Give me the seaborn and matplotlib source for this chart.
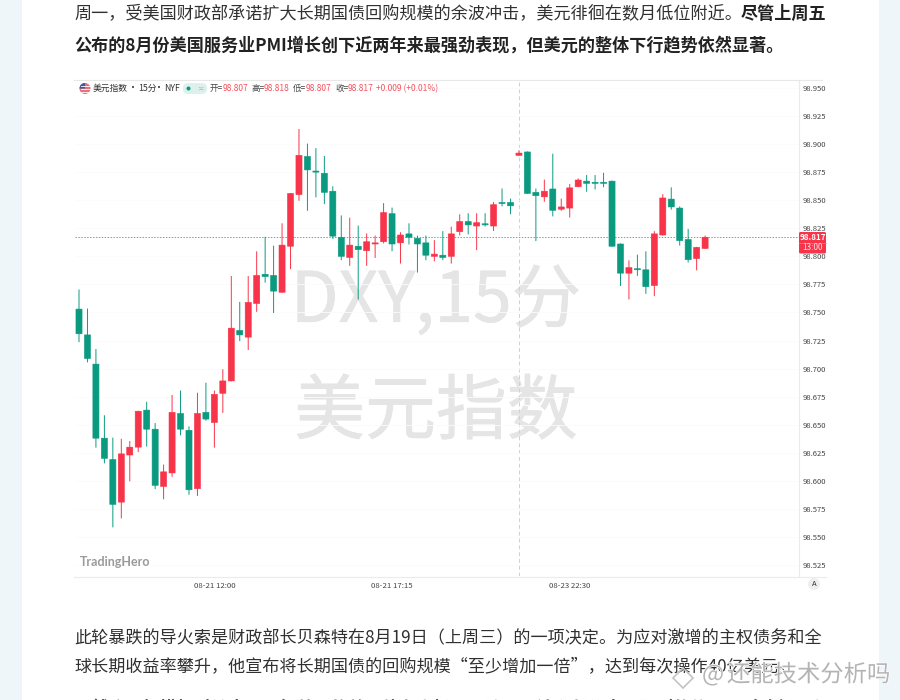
# load libraries
import seaborn as sns
import matplotlib.pyplot as plt
import matplotlib.patches as mpatches
import matplotlib.patheffects as pe
from matplotlib.lines import Line2D
from matplotlib.transforms import Affine2D
import pandas as pd

# candles
opens = [98.753, 98.730, 98.704, 98.638, 98.619, 98.581, 98.623, 98.630, 98.663, 98.646,
         98.595, 98.607, 98.660, 98.645, 98.593, 98.661, 98.652, 98.678, 98.689, 98.734,
         98.728, 98.758, 98.784, 98.783, 98.768, 98.809, 98.855, 98.889, 98.876, 98.874,
         98.858, 98.817, 98.799, 98.809, 98.805, 98.811, 98.813, 98.838, 98.812, 98.820,
         98.816, 98.812, 98.800, 98.801, 98.800, 98.822, 98.831, 98.827, 98.829, 98.827,
         98.848, 98.848, 98.890, 98.893, 98.857, 98.853, 98.860, 98.842, 98.843, 98.862,
         98.867, 98.866, 98.866, 98.867, 98.811, 98.785, 98.789, 98.788, 98.774, 98.819,
         98.851, 98.843, 98.815, 98.798, 98.807]
highs = [98.770, 98.753, 98.717, 98.658, 98.638, 98.637, 98.635, 98.662, 98.670, 98.651,
         98.614, 98.676, 98.680, 98.648, 98.678, 98.687, 98.680, 98.699, 98.782, 98.759,
         98.782, 98.804, 98.817, 98.809, 98.829, 98.856, 98.913, 98.900, 98.896, 98.889,
         98.862, 98.836, 98.834, 98.827, 98.820, 98.818, 98.847, 98.843, 98.821, 98.829,
         98.818, 98.818, 98.814, 98.822, 98.826, 98.837, 98.838, 98.838, 98.838, 98.848,
         98.860, 98.851, 98.894, 98.893, 98.860, 98.868, 98.891, 98.851, 98.864, 98.869,
         98.872, 98.872, 98.874, 98.867, 98.811, 98.796, 98.801, 98.804, 98.822, 98.855,
         98.861, 98.844, 98.824, 98.808, 98.818]
lows = [98.724, 98.706, 98.630, 98.616, 98.559, 98.567, 98.600, 98.626, 98.631, 98.593,
        98.584, 98.604, 98.641, 98.588, 98.587, 98.654, 98.630, 98.661, 98.689, 98.725,
        98.717, 98.751, 98.777, 98.750, 98.768, 98.789, 98.850, 98.841, 98.853, 98.847,
        98.816, 98.797, 98.792, 98.762, 98.792, 98.799, 98.812, 98.805, 98.794, 98.811,
        98.786, 98.797, 98.796, 98.797, 98.794, 98.819, 98.820, 98.806, 98.827, 98.823,
        98.845, 98.838, 98.890, 98.856, 98.814, 98.849, 98.836, 98.841, 98.835, 98.862,
        98.858, 98.860, 98.862, 98.809, 98.774, 98.762, 98.783, 98.767, 98.765, 98.819,
        98.842, 98.810, 98.795, 98.788, 98.807]
closes = [98.731, 98.709, 98.638, 98.620, 98.579, 98.624, 98.630, 98.662, 98.646, 98.596,
          98.608, 98.661, 98.646, 98.592, 98.660, 98.655, 98.677, 98.689, 98.736, 98.730,
          98.759, 98.783, 98.782, 98.769, 98.810, 98.856, 98.890, 98.877, 98.875, 98.857,
          98.818, 98.800, 98.810, 98.806, 98.813, 98.812, 98.839, 98.811, 98.819, 98.817,
          98.811, 98.801, 98.802, 98.799, 98.820, 98.831, 98.828, 98.830, 98.828, 98.846,
          98.847, 98.845, 98.892, 98.856, 98.854, 98.858, 98.841, 98.844, 98.861, 98.868,
          98.865, 98.865, 98.865, 98.809, 98.785, 98.790, 98.788, 98.773, 98.820, 98.852,
          98.844, 98.814, 98.797, 98.808, 98.817]

y_ticks = [98.525, 98.550, 98.575, 98.600, 98.625, 98.650, 98.675, 98.700, 98.725,
           98.750, 98.775, 98.800, 98.825, 98.850, 98.875, 98.900, 98.925, 98.950]
x_tick_bars = [16, 37, 58]
x_tick_labels = ['08-21 12:00', '08-21 17:15', '08-23 22:30']
crosshair_bar = 52
last_price = 98.817

para_top = '周一，受美国财政部承诺扩大长期国债回购规模的余波冲击，美元徘徊在数月低位附近。'
para_top_bold = '尽管上周五'
para_bold = '公布的8月份美国服务业PMI增长创下近两年来最强劲表现，但美元的整体下行趋势依然显著。'
para_low_1 = '此轮暴跌的导火索是财政部长贝森特在8月19日（上周三）的一项决定。为应对激增的主权债务和全'
para_low_2 = '球长期收益率攀升，他宣布将长期国债的回购规模“至少增加一倍”，达到每次操作40亿美元。'
para_cut = '虽然这个规模相对较小，不如美元的美国债务市场，理论，但该举释放出了强烈的信号：财政部正在压'

GREEN = '#0A9A80'
RED = '#F73449'
INK = '#303030'

df = pd.DataFrame({'bar': range(len(opens)), 'open': opens, 'high': highs, 'low': lows, 'close': closes})
df['dir'] = ['up' if c >= o else 'down' for o, c in zip(opens, closes)]
df['body'] = (df['close'] - df['open']).abs()
df['body_low'] = df[['open', 'close']].min(axis=1)
wicks = df.melt(id_vars=['bar', 'dir'], value_vars=['high', 'low'], value_name='price')

plt.rcParams['font.family'] = ['Noto Sans CJK SC', 'DejaVu Sans']
plt.rcParams['axes.unicode_minus'] = False

fig = plt.figure(figsize=(9, 7), dpi=100, facecolor='#EFF6FA')
# page pixels, y pointing down, for everything around the chart
px = Affine2D().scale(1 / 900, -1 / 700).translate(0, 1) + fig.transFigure

fig.add_artist(mpatches.Rectangle((22, 0), 857, 700, transform=px, facecolor='white', edgecolor='none', zorder=-5))

ax = fig.add_axes([75 / 900, 1 - 576 / 700, (799 - 75) / 900, (576 - 80) / 700])
ax.set_facecolor('none')

# watermark under the candles
for txt, y, size in [('DXY,15分', 302, 50), ('美元指数', 413, 51)]:
    mark = fig.text(436, y, txt, transform=px, fontsize=size, color='#E5E5E5', ha='center', va='center', zorder=-1)
    mark.set_path_effects([pe.withStroke(linewidth=0.5, foreground='#E5E5E5')])

sns.lineplot(data=wicks, x='bar', y='price', units='bar', hue='dir', estimator=None,
             palette={'up': RED, 'down': GREEN}, linewidth=0.7, legend=False, ax=ax)
for direction, color in [('up', RED), ('down', GREEN)]:
    part = df[df['dir'] == direction]
    sns.barplot(data=part, x='bar', y='body', bottom=part['body_low'], native_scale=True,
                color=color, saturation=1, width=0.72, errorbar=None,
                edgecolor=color, linewidth=0.4, ax=ax)
for artist in ax.lines + list(ax.patches):
    artist.set_snap(False)

ax.axhline(last_price, color=RED, linewidth=0.7, linestyle=(0, (1.5, 1.5)), alpha=0.75, zorder=1)
ax.axvline(crosshair_bar, color='#D0D0D0', linewidth=0.7, linestyle=(0, (4, 3)), zorder=0)

ax.set_xlim(-0.473, 85.1)
ax.set_ylim(98.5152, 98.9571)
ax.set_xlabel(None)
ax.set_ylabel(None)
ax.set_xticks(x_tick_bars, x_tick_labels)
ax.set_yticks(y_ticks, [f'{v:.3f}' for v in y_ticks])
ax.yaxis.tick_right()
ax.tick_params(axis='x', length=0, pad=4, labelsize=5.6, labelcolor='#444444')
ax.tick_params(axis='y', length=0, pad=2.6, labelsize=5.5, labelcolor='#444444')
ax.grid(axis='y', color='#FBFBFB', linewidth=0.6)
ax.set_axisbelow(True)
ax.spines[['left', 'top', 'bottom']].set_visible(False)
ax.spines['right'].set_color('#EBEBEB')
ax.spines['right'].set_linewidth(0.8)

# frame lines
fig.add_artist(Line2D([74, 822], [80, 80], transform=px, color='#E8E8E8', linewidth=0.8))
fig.add_artist(Line2D([74, 826], [576.5, 576.5], transform=px, color='#EBEBEB', linewidth=0.8))

# header row
fig.add_artist(mpatches.Circle((85, 88.5), 5.5, transform=px, facecolor='#E8707A', edgecolor='none'))
for yy in [86, 89, 92]:
    fig.add_artist(Line2D([80.5, 89.5], [yy, yy], transform=px, color='white', linewidth=0.6))
fig.add_artist(mpatches.Wedge((85, 88.5), 5.5, 180, 270, transform=px, facecolor='#3C5A9A', edgecolor='none'))
for x, piece in [(93, '美元指数'), (138, '15分'), (164, 'NYF')]:
    fig.text(x, 88.5, piece, transform=px, fontsize=6.3, color='#333333', va='center')
for x in [133, 159.5]:
    fig.text(x, 88.5, '•', transform=px, fontsize=5, color='#333333', va='center', ha='center', family='DejaVu Sans')
fig.add_artist(mpatches.FancyBboxPatch((183, 83), 24, 11, boxstyle='round,pad=0,rounding_size=5',
                                       transform=px, facecolor='#DDF1EC', edgecolor='none'))
fig.add_artist(mpatches.Circle((188.5, 88.5), 2, transform=px, facecolor=GREEN, edgecolor='none'))
fig.text(200.5, 88.5, '≍', transform=px, fontsize=5.5, color='#F2A35E', va='center', ha='center')
for x, label, value in [(210, '开', '98.807'), (251.5, '高', '98.818'), (293, '低', '98.807'), (335, '收', '98.817')]:
    fig.text(x, 88.5, label + '=', transform=px, fontsize=6.1, color='#444444', va='center')
    fig.text(x + 12.5, 88.5, value, transform=px, fontsize=6.1, color='#F7525F', va='center')
fig.text(376, 88.5, '+0.009 (+0.01%)', transform=px, fontsize=6.1, color='#F7525F', va='center')

# last price tag
fig.add_artist(mpatches.FancyBboxPatch((799, 232), 27, 21.5, boxstyle='round,pad=0,rounding_size=1.5',
                                       transform=px, facecolor=RED, edgecolor='none', zorder=5))
fig.add_artist(Line2D([799, 826], [242.7, 242.7], transform=px, color='#FA7B88', linewidth=0.5, zorder=6))
fig.text(812.5, 237, '98.817', transform=px, fontsize=5.8, color='white', fontweight='bold', ha='center', va='center', zorder=6)
fig.text(812.5, 248, '13:00', transform=px, fontsize=5.8, color='#FFE3E6', ha='center', va='center', zorder=6)

fig.text(80, 562, 'TradingHero', transform=px, fontsize=9, color='#9A9A9A', family='Lato', fontweight='bold', va='center')
fig.add_artist(mpatches.Circle((814, 584), 6, transform=px, facecolor='#EFEFEF', edgecolor='none'))
fig.text(814, 584, 'A', transform=px, fontsize=5.5, color='#333333', ha='center', va='center')

# article text around the chart
fig.text(74, 14, para_top, transform=px, fontsize=12.3, color=INK, va='center')
fig.text(741, 14, para_top_bold, transform=px, fontsize=12.3, color='#222222', fontweight='bold', va='center')
fig.text(74, 45, para_bold, transform=px, fontsize=12.3, color='#222222', fontweight='bold', va='center')
fig.text(74, 638, para_low_1, transform=px, fontsize=12.3, color=INK, va='center')
fig.text(74, 666, para_low_2, transform=px, fontsize=12.3, color=INK, va='center')
fig.text(74, 709, para_cut, transform=px, fontsize=12.3, color='#555555', fontweight='bold', va='center')

# site stamp bottom right
halo = [pe.withStroke(linewidth=1, foreground='#FFFFFF')]
for x, piece in [(702, '@'), (727, '还能技术分析吗')]:
    fig.text(x, 675, piece, transform=px, fontsize=16.8, color='#B4B4B4', va='center', zorder=8, path_effects=halo)
fig.add_artist(mpatches.RegularPolygon((683, 678), 4, radius=10, transform=px, facecolor='none',
                                       edgecolor='#C4C4C4', linewidth=1.2, zorder=8))

fig.savefig('out.png', dpi=100, facecolor=fig.get_facecolor())
